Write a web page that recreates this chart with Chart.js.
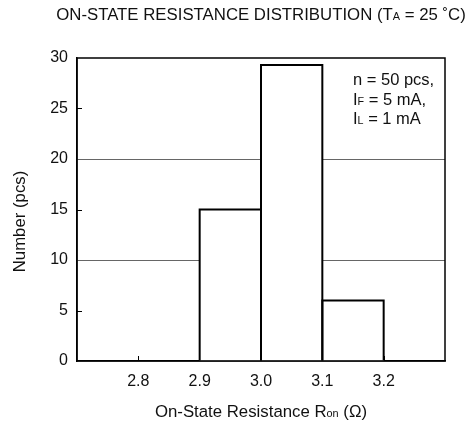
<!DOCTYPE html>
<html>
<head>
<meta charset="utf-8">
<script src="https://cdn.jsdelivr.net/npm/chart.js@4.4.1/dist/chart.umd.min.js"></script>
<style>
  html, body { margin: 0; padding: 0; background: #fff; }
  #wrap { width: 474px; height: 423px; position: relative; }
</style>
</head>
<body>
<div id="wrap"><canvas id="histChart"></canvas></div>
<script>
// Histogram bins (Ω) and counts
const binStarts = [2.9, 3.0, 3.1];
const binEnds = [3.0, 3.1, 3.2];
const counts = [15, 29.3, 6];

// Axis ticks
const xTickValues = [2.7, 2.8, 2.9, 3.0, 3.1, 3.2, 3.3];
const xTickLabels = ['', '2.8', '2.9', '3.0', '3.1', '3.2', ''];
const yTickValues = [0, 5, 10, 15, 20, 25, 30];
const yGridValues = [10, 20];
const yMinorTicks = [5, 15, 25];
const xMinorTicks = [2.8, 2.9, 3.0, 3.1, 3.2];

const FONT = '"Liberation Sans", Arial, sans-serif';
const ctx = document.getElementById('histChart').getContext('2d');

// draw text with a subscript part: parts = [[text, isSub], ...]
function drawRich(c, parts, x, y, size, align) {
    let total = 0;
    parts.forEach(p => {
        c.font = (p[1] ? size * 0.65 : size) + 'px ' + FONT;
        total += c.measureText(p[0]).width;
    });
    let cx = align === 'center' ? x - total / 2 : x;
    parts.forEach(p => {
        c.font = (p[1] ? size * 0.65 : size) + 'px ' + FONT;
        c.fillText(p[0], cx, p[1] ? y + size * 0.12 : y);
        cx += c.measureText(p[0]).width;
    });
}

const framePlugin = {
    id: 'frame',
    beforeDatasetsDraw(chart) {
        const c = chart.ctx;
        const xs = chart.scales.x, ys = chart.scales.y;
        const a = chart.chartArea;
        c.save();
        c.strokeStyle = '#000';
        c.lineWidth = 1;
        // short inward ticks
        yMinorTicks.forEach(v => {
            const py = Math.round(ys.getPixelForValue(v)) + 0.5;
            c.beginPath(); c.moveTo(a.left, py); c.lineTo(a.left + 5, py); c.stroke();
        });
        xMinorTicks.forEach(v => {
            const px = Math.round(xs.getPixelForValue(v)) + 0.5;
            c.beginPath(); c.moveTo(px, a.bottom); c.lineTo(px, a.bottom - 5); c.stroke();
        });
        c.restore();
    },
    afterDatasetsDraw(chart) {
        const c = chart.ctx;
        const a = chart.chartArea;
        c.save();
        // bar outlines (centered on the edges so shared edges stay 2px)
        c.strokeStyle = '#000';
        c.lineWidth = 2;
        chart.getDatasetMeta(0).data.forEach(bar => {
            const p = bar.getProps(['x', 'y', 'base', 'width'], true);
            c.beginPath();
            c.moveTo(p.x - p.width / 2, p.base);
            c.lineTo(p.x - p.width / 2, p.y);
            c.lineTo(p.x + p.width / 2, p.y);
            c.lineTo(p.x + p.width / 2, p.base);
            c.stroke();
        });
        // plot frame
        c.lineWidth = 1.5;
        c.strokeRect(a.left, a.top, a.right - a.left, a.bottom - a.top);

        // texts
        c.fillStyle = '#111';
        c.textBaseline = 'middle';
        c.textAlign = 'left';
        const mid = (a.left + a.right) / 2;
        drawRich(c, [['ON-STATE RESISTANCE DISTRIBUTION (T', false], ['A', true], [' = 25 ˚C)', false]], mid, 15, 16.8, 'center');
        drawRich(c, [['n = 50 pcs,', false]], 353, 80, 16.5, 'left');
        drawRich(c, [['I', false], ['F', true], [' = 5 mA,', false]], 353, 100, 16.5, 'left');
        drawRich(c, [['I', false], ['L', true], [' = 1 mA', false]], 353, 119, 16.5, 'left');
        drawRich(c, [['On-State Resistance R', false], ['on', true], [' (Ω)', false]], mid, 412, 16.8, 'center');
        c.save();
        c.translate(20, (a.top + a.bottom) / 2 + 12);
        c.rotate(-Math.PI / 2);
        drawRich(c, [['Number (pcs)', false]], 0, 0, 16.8, 'center');
        c.restore();
        c.restore();
    }
};

const chart = new Chart(ctx, {
    type: 'bar',
    data: {
        datasets: [{
            data: counts.map((v, i) => ({ x: (binStarts[i] + binEnds[i]) / 2, y: v })),
            backgroundColor: '#fff',
            borderWidth: 0,
            barPercentage: 1,
            categoryPercentage: 1
        }]
    },
    options: {
        responsive: true,
        maintainAspectRatio: false,
        animation: false,
        layout: { padding: { top: 58, right: 29, left: 0, bottom: 0 } },
        plugins: {
            legend: { display: false },
            tooltip: { enabled: false }
        },
        scales: {
            x: {
                type: 'linear',
                min: 2.7,
                max: 3.3,
                offset: false,
                afterBuildTicks: s => { s.ticks = xTickValues.map(v => ({ value: v })); },
                afterFit: s => { s.height = 62; },
                ticks: {
                    color: '#111',
                    font: { family: FONT, size: 16 },
                    padding: 11,
                    maxRotation: 0,
                    autoSkip: false,
                    callback: (v, i) => xTickLabels[i]
                },
                grid: { display: false, drawTicks: false, offset: false },
                border: { color: '#000', width: 1.5 }
            },
            y: {
                min: 0,
                max: 30,
                afterBuildTicks: s => { s.ticks = yTickValues.map(v => ({ value: v })); },
                afterFit: s => { s.width = 77; },
                ticks: {
                    color: '#111',
                    font: { family: FONT, size: 16 },
                    padding: 9
                },
                grid: {
                    drawTicks: false,
                    lineWidth: 1,
                    color: c => yGridValues.includes(c.tick.value) ? '#666' : 'rgba(0,0,0,0)'
                },
                border: { color: '#000', width: 1.5 }
            }
        }
    },
    plugins: [framePlugin]
});
</script>
</body>
</html>
